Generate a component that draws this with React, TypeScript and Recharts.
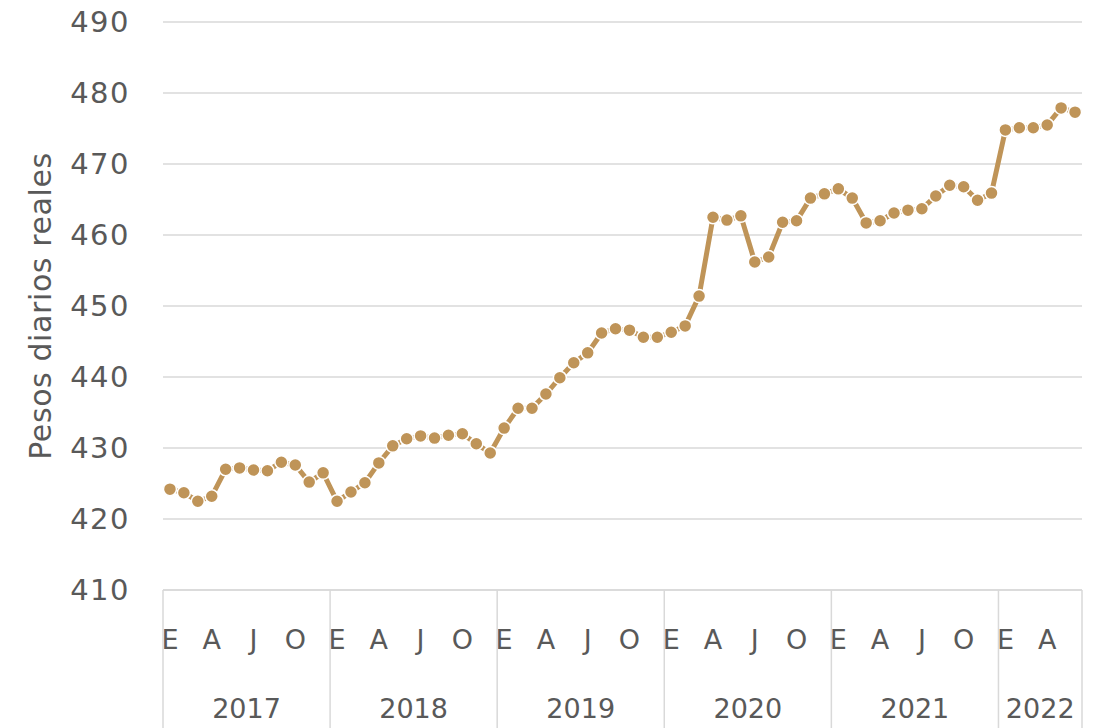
import { LineChart, Line, XAxis, YAxis, CartesianGrid } from 'recharts';

const years = ['2017', '2018', '2019', '2020', '2021', '2022'];
const monthLetters = ['E', '', '', 'A', '', '', 'J', '', '', 'O', '', ''];
const yTicks = [410, 420, 430, 440, 450, 460, 470, 480, 490];

// pesos diarios reales, mensual desde enero 2017
const values = [
  424.2, 423.7, 422.5, 423.2, 427.0, 427.2, 426.9, 426.8, 428.0, 427.6, 425.2, 426.5,
  422.5, 423.8, 425.1, 427.9, 430.3, 431.3, 431.7, 431.4, 431.8, 432.0, 430.6, 429.3,
  432.8, 435.6, 435.6, 437.6, 439.9, 442.0, 443.4, 446.2, 446.8, 446.6, 445.6, 445.6,
  446.3, 447.2, 451.4, 462.5, 462.1, 462.7, 456.2, 456.9, 461.8, 462.0, 465.2, 465.8,
  466.5, 465.2, 461.7, 462.0, 463.1, 463.5, 463.7, 465.5, 467.0, 466.8, 464.9, 465.9,
  474.8, 475.1, 475.1, 475.5, 477.9, 477.3,
];

const data = values.map((v, i) => ({
  idx: i,
  year: years[Math.floor(i / 12)],
  month: i % 12,
  value: v,
}));

const W = 1096;
const H = 728;
const margin = { top: 22, right: 14, bottom: 0, left: 0 };
const yAxisWidth = 163;
const xAxisHeight = 138;
const plotWidth = W - margin.left - margin.right - yAxisWidth;
const band = plotWidth / data.length;

const color = '#BF9458';
const grid = '#D9D9D9';
const textColor = '#595959';
const font = '"DejaVu Sans", sans-serif';

const MonthTick = (props: any) => {
  const { x, y, payload } = props;
  const i = payload.value as number;
  const d = data[i];
  const left = x - band / 2;
  const isFirst = d.month === 0;
  const isLast = i === data.length - 1;
  const monthsInYear = data.filter((p) => p.year === d.year).length;
  return (
    <g>
      {monthLetters[d.month] && (
        <text x={x} y={y + 49} textAnchor="middle" dominantBaseline="central"
          fill={textColor} fontSize={27} fontFamily={font}>
          {monthLetters[d.month]}
        </text>
      )}
      {isFirst && (
        <>
          <line x1={left} x2={left} y1={y} y2={y + xAxisHeight} stroke={grid} strokeWidth={1.5} />
          <text x={left + (monthsInYear * band) / 2} y={y + 118} textAnchor="middle"
            dominantBaseline="central" fill={textColor} fontSize={27} fontFamily={font}>
            {d.year}
          </text>
        </>
      )}
      {isLast && (
        <line x1={x + band / 2} x2={x + band / 2} y1={y} y2={y + xAxisHeight} stroke={grid} strokeWidth={1.5} />
      )}
    </g>
  );
};

const YLabel = (props: any) => {
  const { viewBox } = props;
  const cx = 40;
  const cy = viewBox.y + viewBox.height / 2;
  return (
    <text x={cx} y={cy} transform={`rotate(-90, ${cx}, ${cy})`} textAnchor="middle"
      dominantBaseline="central" fill={textColor} fontSize={30} letterSpacing={0.6} fontFamily={font}>
      Pesos diarios reales
    </text>
  );
};

export default function App() {
  return (
    <div style={{ position: 'absolute', left: 0, top: 0, background: '#fff' }}>
      <LineChart width={W} height={H} data={data} margin={margin}>
        <CartesianGrid vertical={false} stroke={grid} strokeWidth={1.5} />
        <XAxis
          dataKey="idx"
          interval={0}
          height={xAxisHeight}
          padding={{ left: band / 2, right: band / 2 }}
          tickLine={false}
          tickSize={0}
          tickMargin={0}
          axisLine={{ stroke: grid, strokeWidth: 1.5 }}
          tick={<MonthTick />}
        />
        <YAxis
          domain={[410, 490]}
          ticks={yTicks}
          width={yAxisWidth}
          axisLine={false}
          tickLine={false}
          tickSize={0}
          tickMargin={33}
          tick={{ fill: textColor, fontSize: 29, fontFamily: font, letterSpacing: 1.5 }}
          label={<YLabel />}
        />
        <Line
          type="linear"
          dataKey="value"
          stroke={color}
          strokeWidth={5}
          dot={{ r: 6.5, fill: color, stroke: '#fff', strokeWidth: 1.5, fillOpacity: 1 }}
          activeDot={false}
          isAnimationActive={false}
        />
      </LineChart>
    </div>
  );
}
